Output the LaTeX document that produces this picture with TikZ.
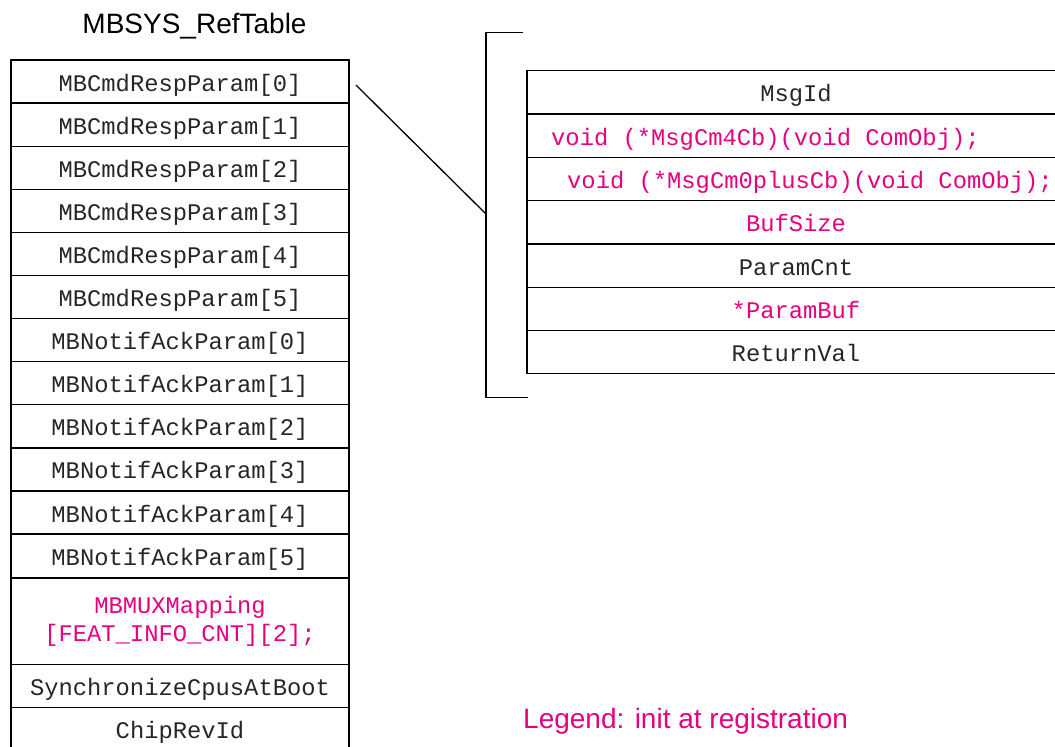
\documentclass[tikz,border=0pt]{standalone}
\usepackage{fontspec}
\setmainfont{Liberation Sans}
\newfontfamily\codefont{Liberation Mono}
\usepackage{tikz}
\usepackage{xcolor}
\definecolor{regpink}{RGB}{230,0,126}

\begin{document}
\begin{tikzpicture}[x=1pt,y=-1pt,
		code/.style={font=\codefont\fontsize{23.8}{28.4}\selectfont, text=black!85},
		oneline/.style={text height=19pt, text depth=0pt},
		box/.style={code, draw, line width=1.3pt, outer sep=0pt, inner sep=0pt, minimum width=338pt, minimum height=43.1pt},
		field/.style={box, oneline},
		member/.style={field, minimum width=538pt, minimum height=43.3pt},
		reg/.style={text=regpink}]
		\clip (0,0) rectangle (1055,747);
		\node (title) at (194.5,26) {\fontsize{28}{32}\selectfont MBSYS\_RefTable};
		\node[field] (cmd0) at (180,81.55) {MBCmdRespParam[0]};
		\node[field] (cmd1) at (180,124.65) {MBCmdRespParam[1]};
		\node[field] (cmd2) at (180,167.75) {MBCmdRespParam[2]};
		\node[field] (cmd3) at (180,210.85) {MBCmdRespParam[3]};
		\node[field] (cmd4) at (180,253.95) {MBCmdRespParam[4]};
		\node[field] (cmd5) at (180,297.05) {MBCmdRespParam[5]};
		\node[field] (ack0) at (180,340.15) {MBNotifAckParam[0]};
		\node[field] (ack1) at (180,383.25) {MBNotifAckParam[1]};
		\node[field] (ack2) at (180,426.35) {MBNotifAckParam[2]};
		\node[field] (ack3) at (180,469.45) {MBNotifAckParam[3]};
		\node[field] (ack4) at (180,512.55) {MBNotifAckParam[4]};
		\node[field] (ack5) at (180,555.65) {MBNotifAckParam[5]};
		\node[box, reg, minimum height=86.2pt, align=center] (mux) at (180,621.3) {MBMUXMapping\\{[}FEAT\_INFO\_CNT][2];};
		\node[field] (sync) at (180,685.95) {SynchronizeCpusAtBoot};
		\node[field] (chip) at (180,729.05) {ChipRevId};
		\node[member] (msgid) at (796,92.35) {MsgId};
		\node[member] (cm4) at (796,135.65) {};
		\node[code, oneline, reg, anchor=west, inner sep=0pt] (cm4txt) at ([xshift=24]cm4.west) {void (*MsgCm4Cb)(void ComObj);};
		\node[member] (cm0) at (796,178.95) {};
		\node[code, oneline, reg, anchor=west, inner sep=0pt] (cm0txt) at ([xshift=40]cm0.west) {void (*MsgCm0plusCb)(void ComObj);};
		\node[member, reg] (bufsize) at (796,222.25) {BufSize};
		\node[member] (paramcnt) at (796,265.55) {ParamCnt};
		\node[member, reg] (parambuf) at (796,308.85) {*ParamBuf};
		\node[member] (retval) at (796,352.15) {ReturnVal};
		\coordinate (brtop) at (523,32.7);
		\coordinate (brmid) at (486,214);
		\coordinate (brbot) at (527.5,397.3);
		\draw[line width=1.3pt] (brtop) -- (brmid |- brtop) -- (brmid |- brbot) -- (brbot);
		\draw[line width=1.3pt] ([shift={(7,3.5)}]cmd0.east) -- (brmid);
		\node[anchor=west, text=regpink, inner sep=0pt] (legend) at (523,721) {\fontsize{28}{32}\selectfont Legend: init at registration};
	\end{tikzpicture}
\end{document}
